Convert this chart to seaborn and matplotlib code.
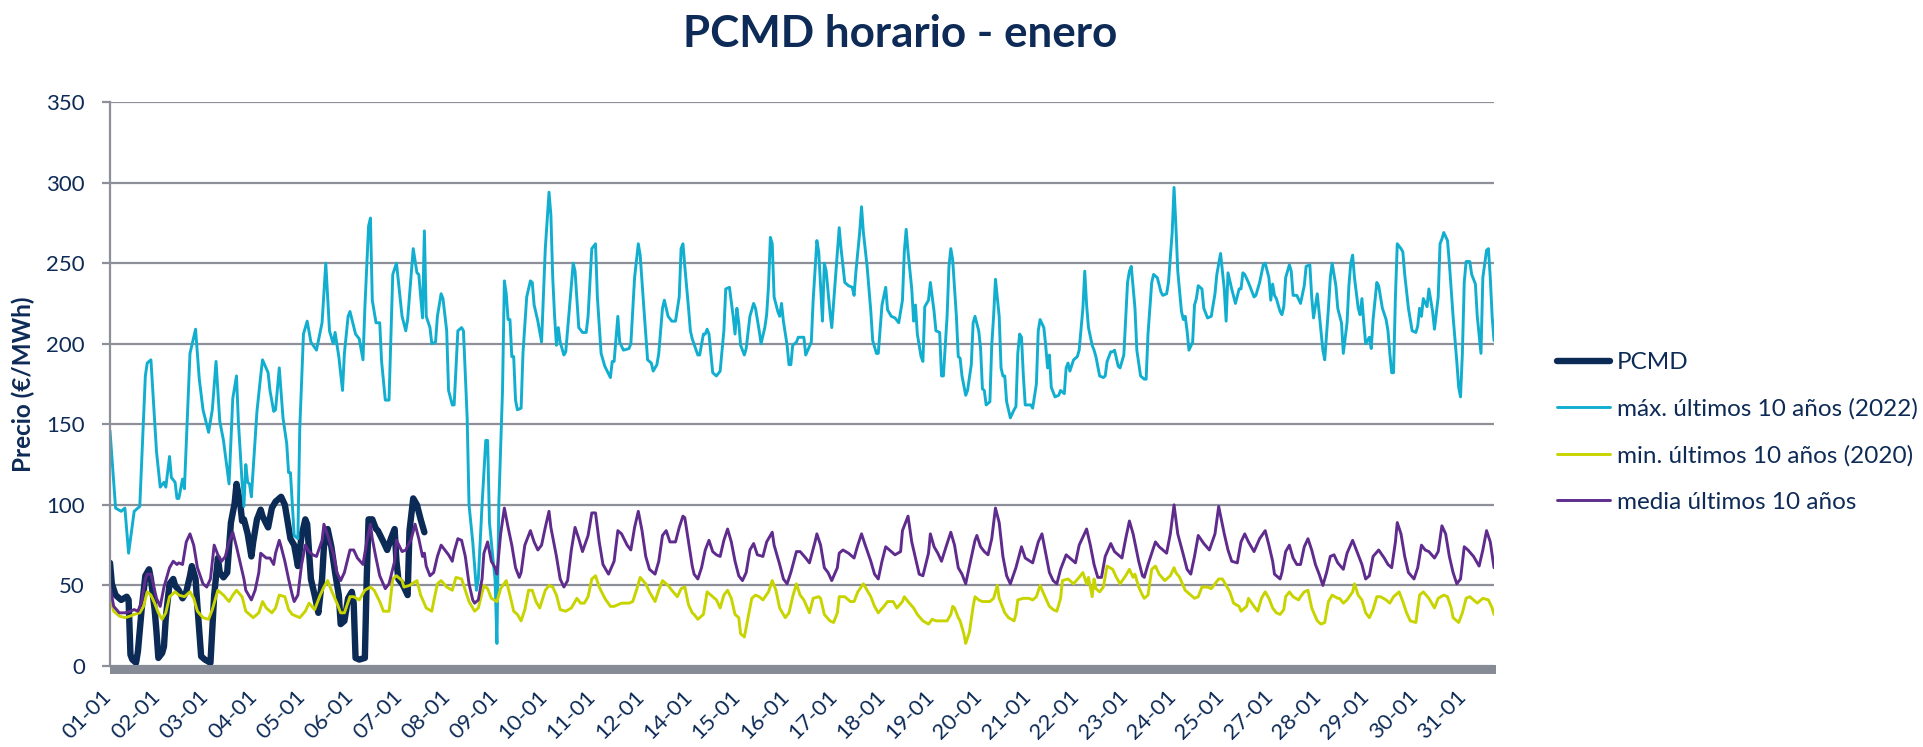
import matplotlib
matplotlib.use("Agg")
import matplotlib.pyplot as plt
import matplotlib.transforms as mtransforms
import pandas as pd
import seaborn as sns

# --- data: (hour of the month, EUR/MWh) ---
title = "PCMD horario - enero"
ylabel = "Precio (€/MWh)"
series_names = ["PCMD", "máx. últimos 10 años (2022)",
                "min. últimos 10 años (2020)", "media últimos 10 años"]
# Excel shows one date label every 26 hours, so 13-01 and 26-01 are skipped
tick_labels = ["01-01", "02-01", "03-01", "04-01", "05-01", "06-01", "07-01",
               "08-01", "09-01", "10-01", "11-01", "12-01", "14-01", "15-01",
               "16-01", "17-01", "18-01", "19-01", "20-01", "21-01", "22-01",
               "23-01", "24-01", "25-01", "27-01", "28-01", "29-01", "30-01",
               "31-01"]
label_every = 26
y_ticks = [0, 50, 100, 150, 200, 250, 300, 350]

pcmd_pts = [
    (0, 64), (1, 51), (3, 44), (6, 41), (9, 43), (10, 41), (11, 7), (12, 4), (14, 2), (15, 9),
    (17, 35), (19, 56), (21, 60), (22, 54), (24, 35), (25, 21), (26, 5), (28, 8), (29, 12),
    (30, 30), (32, 51), (34, 54), (35, 50), (37, 47), (39, 42), (41, 46), (43, 56), (44, 62),
    (46, 54), (47, 37), (49, 6), (51, 4), (54, 2), (56, 44), (58, 67), (59, 58), (61, 55),
    (63, 58), (65, 89), (67, 101), (68, 113), (70, 101), (71, 90), (72, 91), (74, 82), (76, 68),
    (77, 77), (79, 91), (81, 97), (82, 93), (85, 86), (87, 98), (89, 102), (92, 105), (94, 100),
    (96, 86), (97, 79), (99, 75), (101, 62), (103, 81), (105, 91), (106, 88), (108, 54),
    (110, 44), (112, 33), (114, 54), (115, 74), (117, 85), (119, 74), (121, 58), (123, 44),
    (124, 26), (126, 28), (128, 42), (130, 46), (131, 39), (132, 5), (134, 4), (137, 5),
    (138, 54), (139, 91), (141, 91), (143, 85), (144, 84), (147, 77), (149, 72), (151, 79),
    (153, 85), (154, 65), (155, 54), (157, 51), (158, 49), (160, 44), (161, 84), (163, 104),
    (165, 100), (167, 91), (169, 83)]

max_pts = [
    (0, 146), (2, 114), (3, 98), (6, 96), (8, 98), (10, 70), (13, 96), (16, 99), (19, 180),
    (20, 188), (22, 190), (25, 133), (27, 111), (29, 114), (30, 111), (32, 130), (33, 117),
    (35, 114), (36, 104), (37, 104), (39, 116), (40, 110), (43, 194), (46, 209), (48, 178),
    (50, 159), (53, 145), (55, 159), (57, 189), (59, 152), (61, 140), (64, 113), (66, 166),
    (68, 180), (69, 152), (71, 114), (72, 99), (73, 125), (74, 114), (75, 113), (76, 105),
    (79, 158), (81, 180), (82, 190), (85, 182), (86, 171), (88, 158), (89, 159), (91, 185),
    (93, 154), (95, 138), (96, 120), (97, 120), (98, 100), (99, 81), (101, 79), (102, 147),
    (104, 206), (106, 214), (108, 201), (111, 196), (114, 213), (116, 250), (118, 208),
    (120, 200), (121, 207), (123, 192), (125, 171), (126, 194), (128, 217), (129, 220),
    (132, 206), (134, 203), (136, 190), (137, 222), (139, 273), (140, 278), (141, 227),
    (143, 213), (145, 213), (146, 189), (148, 165), (150, 165), (152, 243), (154, 250),
    (157, 217), (159, 208), (160, 215), (163, 259), (165, 244), (166, 243), (168, 216),
    (169, 270), (170, 217), (172, 210), (173, 200), (175, 201), (176, 217), (178, 231),
    (179, 228), (181, 208), (182, 171), (184, 162), (185, 162), (187, 208), (189, 210),
    (190, 208), (192, 154), (193, 100), (195, 77), (197, 47), (198, 54), (200, 100), (202, 140),
    (203, 140), (204, 89), (206, 65), (207, 54), (208, 14), (209, 100), (211, 171), (212, 239),
    (213, 231), (214, 215), (215, 215), (216, 192), (217, 192), (218, 165), (219, 159),
    (221, 160), (222, 194), (224, 229), (226, 239), (227, 238), (228, 224), (230, 214),
    (232, 201), (234, 259), (236, 294), (237, 280), (238, 241), (239, 217), (240, 199),
    (241, 210), (242, 201), (244, 193), (245, 195), (247, 222), (248, 236), (249, 250),
    (250, 245), (252, 210), (254, 207), (256, 207), (257, 217), (259, 259), (261, 262),
    (262, 229), (264, 194), (266, 186), (269, 179), (270, 189), (271, 189), (273, 217),
    (274, 201), (276, 196), (279, 197), (280, 200), (282, 241), (284, 262), (285, 255),
    (287, 222), (289, 190), (291, 188), (292, 183), (294, 187), (295, 194), (297, 222),
    (298, 227), (300, 217), (302, 214), (304, 214), (306, 229), (307, 259), (308, 262),
    (309, 248), (311, 222), (312, 208), (313, 203), (316, 193), (317, 193), (319, 206),
    (320, 206), (321, 209), (322, 206), (324, 182), (326, 180), (328, 183), (330, 208),
    (331, 234), (333, 235), (335, 217), (336, 206), (337, 222), (338, 213), (339, 199),
    (341, 193), (342, 197), (344, 217), (346, 225), (347, 222), (349, 208), (350, 200),
    (352, 210), (353, 218), (354, 236), (355, 266), (356, 262), (357, 229), (359, 220),
    (360, 217), (361, 225), (362, 214), (364, 199), (365, 187), (366, 187), (367, 199),
    (369, 201), (370, 204), (373, 204), (374, 193), (377, 201), (378, 227), (380, 264),
    (381, 257), (382, 236), (383, 214), (384, 250), (385, 245), (387, 220), (388, 210),
    (390, 241), (392, 272), (393, 259), (395, 238), (397, 236), (399, 235), (400, 230),
    (401, 245), (403, 269), (404, 285), (405, 269), (407, 248), (409, 220), (410, 202),
    (412, 194), (413, 194), (415, 224), (417, 235), (418, 221), (420, 217), (422, 216),
    (424, 213), (426, 227), (427, 257), (428, 271), (429, 257), (431, 234), (432, 214),
    (433, 224), (434, 206), (436, 192), (437, 189), (438, 223), (440, 227), (441, 238),
    (443, 220), (444, 208), (446, 207), (447, 180), (448, 180), (450, 217), (451, 248),
    (452, 259), (453, 252), (455, 217), (456, 192), (457, 191), (458, 180), (460, 168),
    (461, 171), (463, 187), (464, 213), (465, 217), (467, 208), (468, 197), (469, 172),
    (470, 171), (471, 162), (473, 164), (474, 199), (475, 217), (476, 240), (478, 217),
    (479, 185), (480, 180), (481, 180), (482, 164), (484, 154), (486, 159), (487, 161),
    (488, 194), (489, 206), (490, 204), (491, 180), (492, 162), (495, 162), (496, 160),
    (498, 175), (499, 208), (500, 215), (502, 210), (503, 199), (504, 185), (505, 193),
    (506, 173), (508, 167), (510, 168), (511, 171), (513, 169), (514, 185), (515, 188),
    (516, 183), (518, 190), (520, 192), (521, 196), (523, 222), (524, 245), (525, 224),
    (526, 210), (528, 199), (529, 196), (530, 192), (532, 180), (534, 179), (535, 180),
    (536, 189), (538, 195), (539, 195), (540, 196), (542, 186), (543, 185), (545, 193),
    (547, 238), (548, 245), (549, 248), (551, 222), (552, 196), (554, 180), (556, 178),
    (557, 178), (558, 206), (560, 238), (561, 243), (563, 241), (565, 232), (566, 230),
    (568, 231), (569, 238), (571, 269), (572, 297), (573, 273), (574, 245), (576, 220),
    (577, 215), (578, 217), (579, 208), (580, 196), (582, 201), (583, 224), (584, 228),
    (585, 236), (587, 234), (588, 222), (590, 216), (592, 217), (594, 231), (595, 243),
    (597, 256), (599, 234), (600, 214), (601, 244), (603, 234), (605, 225), (607, 234),
    (608, 234), (609, 244), (610, 243), (612, 238), (613, 235), (615, 229), (616, 230),
    (618, 238), (620, 249), (621, 250), (623, 241), (624, 227), (625, 237), (626, 230),
    (627, 228), (629, 220), (630, 218), (631, 223), (632, 241), (634, 249), (635, 245),
    (636, 230), (638, 230), (640, 225), (642, 236), (643, 248), (645, 249), (646, 229),
    (647, 216), (649, 231), (651, 208), (652, 196), (653, 190), (655, 222), (656, 241),
    (657, 250), (659, 236), (660, 222), (662, 213), (663, 194), (665, 213), (666, 236),
    (667, 250), (668, 255), (669, 241), (671, 222), (672, 218), (673, 228), (674, 213),
    (675, 200), (677, 204), (678, 197), (679, 215), (681, 238), (682, 236), (684, 222),
    (686, 215), (687, 208), (688, 194), (689, 182), (690, 182), (691, 229), (692, 262),
    (694, 259), (695, 257), (696, 243), (698, 222), (699, 215), (700, 208), (702, 207),
    (703, 211), (704, 222), (705, 217), (706, 228), (708, 223), (709, 234), (711, 220),
    (712, 209), (714, 229), (715, 262), (716, 265), (717, 269), (719, 264), (720, 250),
    (722, 217), (724, 189), (725, 173), (726, 167), (727, 194), (728, 238), (729, 251),
    (731, 251), (732, 243), (734, 237), (735, 217), (737, 194), (738, 241), (740, 258),
    (741, 259), (742, 241), (743, 217), (744, 202)]

min_pts = [
    (0, 43), (2, 34), (5, 31), (8, 30), (11, 31), (13, 32), (16, 33), (18, 37), (20, 46),
    (22, 44), (24, 39), (26, 33), (28, 29), (30, 33), (32, 43), (35, 46), (37, 44), (40, 43),
    (43, 46), (45, 42), (47, 34), (50, 30), (53, 29), (55, 35), (58, 47), (61, 44), (64, 40),
    (66, 44), (68, 47), (71, 43), (73, 34), (77, 30), (80, 33), (82, 40), (84, 36), (87, 33),
    (89, 36), (91, 44), (94, 43), (96, 35), (98, 32), (102, 30), (105, 34), (107, 39),
    (110, 35), (113, 44), (115, 49), (117, 53), (119, 47), (122, 39), (124, 33), (126, 33),
    (129, 43), (131, 43), (134, 41), (137, 47), (140, 49), (142, 47), (145, 40), (147, 34),
    (150, 34), (152, 54), (154, 56), (157, 53), (158, 49), (161, 50), (165, 53), (167, 44),
    (170, 36), (173, 34), (174, 40), (176, 51), (178, 53), (181, 49), (184, 47), (186, 55),
    (189, 54), (191, 47), (193, 40), (196, 34), (198, 36), (201, 50), (203, 48), (205, 42),
    (208, 40), (210, 48), (213, 53), (215, 44), (217, 34), (219, 32), (221, 28), (223, 35),
    (225, 47), (227, 47), (229, 40), (231, 36), (234, 47), (236, 50), (238, 49), (240, 44),
    (242, 35), (245, 34), (248, 36), (251, 42), (253, 39), (255, 39), (257, 43), (259, 54),
    (261, 56), (263, 49), (266, 42), (269, 37), (271, 37), (275, 39), (279, 39), (281, 40),
    (283, 47), (285, 55), (288, 51), (290, 46), (293, 40), (295, 47), (297, 53), (300, 50),
    (302, 47), (305, 43), (307, 48), (309, 49), (311, 38), (313, 33), (314, 32), (316, 29),
    (319, 32), (321, 46), (323, 44), (326, 41), (328, 36), (330, 44), (332, 47), (334, 42),
    (336, 32), (338, 30), (339, 20), (341, 18), (343, 30), (345, 42), (347, 44), (349, 43),
    (351, 41), (354, 46), (356, 53), (358, 47), (360, 36), (363, 30), (365, 33), (367, 43),
    (369, 51), (371, 44), (373, 41), (376, 33), (378, 42), (381, 43), (382, 42), (384, 32),
    (387, 28), (389, 27), (391, 33), (392, 43), (395, 43), (398, 40), (400, 40), (402, 46),
    (405, 51), (407, 47), (409, 43), (411, 37), (413, 33), (416, 37), (418, 40), (421, 40),
    (423, 36), (426, 40), (427, 43), (429, 40), (432, 36), (434, 32), (437, 28), (440, 26),
    (442, 29), (444, 28), (447, 28), (450, 28), (452, 32), (453, 37), (454, 36), (456, 30),
    (457, 28), (459, 20), (460, 14), (462, 21), (464, 37), (465, 43), (467, 41), (469, 40),
    (473, 40), (475, 42), (477, 50), (478, 42), (481, 33), (483, 30), (486, 28), (487, 32),
    (488, 41), (491, 42), (494, 42), (496, 41), (498, 43), (500, 50), (503, 42), (505, 37),
    (507, 35), (509, 34), (511, 42), (512, 53), (515, 54), (518, 51), (521, 55), (523, 58),
    (525, 51), (526, 55), (528, 43), (529, 54), (530, 48), (532, 46), (534, 49), (536, 62),
    (539, 60), (541, 55), (543, 51), (546, 56), (548, 60), (550, 55), (551, 57), (553, 49),
    (555, 44), (556, 42), (558, 44), (560, 60), (562, 62), (564, 57), (567, 53), (570, 56),
    (572, 61), (573, 58), (575, 55), (578, 47), (581, 44), (583, 42), (585, 43), (587, 49),
    (590, 49), (592, 48), (594, 51), (596, 54), (598, 54), (600, 50), (602, 46), (604, 39),
    (607, 37), (608, 34), (611, 37), (612, 42), (615, 37), (617, 34), (619, 42), (621, 46),
    (623, 42), (625, 36), (627, 33), (629, 32), (631, 35), (632, 43), (634, 46), (636, 43),
    (639, 41), (640, 43), (642, 46), (644, 47), (646, 36), (649, 28), (651, 26), (653, 27),
    (655, 40), (657, 44), (660, 42), (661, 42), (663, 39), (665, 41), (668, 46), (669, 51),
    (671, 44), (673, 41), (675, 33), (677, 30), (679, 35), (681, 43), (683, 43), (686, 41),
    (688, 39), (690, 43), (693, 46), (695, 40), (697, 33), (699, 28), (702, 27), (704, 44),
    (706, 46), (709, 42), (712, 36), (714, 42), (717, 44), (719, 43), (721, 36), (722, 30),
    (725, 27), (727, 33), (729, 42), (731, 43), (733, 41), (735, 39), (738, 42), (741, 41),
    (743, 36), (744, 32)]

media_pts = [
    (0, 49), (2, 37), (5, 33), (8, 33), (11, 34), (13, 35), (15, 34), (17, 40), (19, 54),
    (20, 57), (22, 57), (24, 47), (25, 42), (27, 37), (29, 49), (32, 61), (34, 65), (36, 63),
    (37, 64), (39, 63), (41, 77), (43, 82), (45, 75), (47, 61), (50, 51), (52, 49), (54, 54),
    (56, 75), (58, 69), (60, 65), (62, 68), (64, 77), (66, 83), (68, 74), (70, 64), (72, 54),
    (73, 47), (76, 41), (78, 47), (80, 58), (81, 70), (84, 67), (86, 67), (88, 63), (89, 70),
    (91, 78), (92, 74), (94, 65), (96, 54), (98, 44), (99, 40), (101, 44), (103, 63), (105, 75),
    (107, 71), (109, 69), (111, 68), (114, 78), (115, 88), (117, 81), (120, 70), (122, 58),
    (124, 53), (126, 58), (129, 72), (131, 72), (133, 67), (136, 63), (138, 77), (140, 88),
    (141, 79), (143, 67), (145, 56), (148, 48), (150, 51), (153, 65), (154, 78), (157, 71),
    (159, 72), (162, 79), (164, 88), (166, 79), (168, 68), (169, 70), (170, 62), (172, 56),
    (174, 58), (176, 68), (178, 75), (180, 72), (182, 69), (184, 65), (185, 71), (187, 79),
    (189, 78), (191, 68), (193, 51), (195, 41), (196, 39), (198, 41), (200, 54), (201, 70),
    (203, 77), (205, 65), (207, 61), (208, 57), (210, 82), (212, 98), (214, 86), (216, 75),
    (218, 61), (220, 55), (221, 58), (223, 75), (226, 84), (228, 77), (230, 72), (232, 75),
    (234, 86), (236, 96), (237, 86), (240, 68), (242, 54), (244, 49), (246, 53), (248, 72),
    (250, 86), (252, 79), (254, 71), (257, 81), (259, 95), (261, 95), (263, 77), (265, 63),
    (268, 57), (271, 65), (273, 84), (275, 82), (278, 75), (280, 72), (282, 86), (284, 96),
    (286, 84), (288, 68), (290, 60), (293, 57), (295, 65), (297, 81), (299, 84), (301, 77),
    (304, 77), (306, 86), (308, 93), (309, 92), (311, 77), (313, 62), (314, 57), (316, 54),
    (318, 61), (320, 72), (322, 78), (324, 71), (326, 69), (328, 68), (330, 78), (332, 85),
    (334, 77), (336, 65), (338, 56), (340, 53), (342, 58), (344, 72), (346, 76), (348, 69),
    (351, 68), (353, 77), (356, 83), (357, 75), (360, 63), (362, 54), (364, 51), (366, 58),
    (369, 71), (371, 71), (374, 67), (376, 64), (379, 77), (380, 82), (382, 75), (384, 61),
    (386, 58), (388, 53), (391, 61), (392, 70), (394, 72), (397, 70), (400, 67), (402, 75),
    (404, 82), (406, 75), (409, 65), (411, 57), (413, 54), (415, 65), (417, 74), (420, 71),
    (422, 69), (425, 71), (426, 84), (429, 93), (431, 77), (433, 67), (435, 57), (437, 56),
    (440, 70), (441, 82), (443, 74), (445, 70), (447, 65), (450, 76), (452, 83), (454, 75),
    (456, 61), (458, 57), (460, 51), (462, 62), (465, 78), (466, 81), (468, 74), (470, 71),
    (472, 69), (474, 79), (476, 98), (478, 89), (480, 68), (482, 56), (484, 51), (487, 61),
    (490, 74), (492, 67), (496, 64), (499, 77), (501, 82), (503, 70), (505, 58), (507, 53),
    (509, 51), (511, 60), (514, 69), (516, 67), (519, 64), (521, 75), (525, 85), (527, 75),
    (529, 63), (531, 55), (533, 55), (535, 68), (538, 76), (540, 71), (544, 67), (546, 79),
    (548, 90), (550, 82), (553, 65), (555, 56), (556, 55), (558, 63), (562, 77), (564, 74),
    (568, 70), (570, 82), (572, 100), (574, 82), (577, 69), (579, 60), (581, 57), (583, 68),
    (585, 81), (588, 76), (591, 72), (594, 82), (596, 99), (599, 82), (601, 72), (603, 65),
    (606, 64), (608, 77), (610, 82), (612, 77), (615, 71), (618, 79), (621, 84), (623, 75),
    (625, 65), (626, 57), (629, 54), (630, 58), (632, 71), (634, 75), (636, 67), (638, 63),
    (640, 63), (642, 74), (644, 79), (646, 72), (648, 63), (650, 57), (652, 50), (654, 58),
    (656, 68), (658, 69), (660, 64), (663, 60), (665, 70), (668, 78), (670, 72), (673, 63),
    (675, 54), (677, 56), (679, 68), (682, 72), (685, 67), (687, 63), (689, 61), (691, 77),
    (692, 89), (694, 82), (696, 68), (698, 58), (701, 54), (703, 61), (705, 75), (707, 72),
    (709, 71), (712, 67), (714, 71), (716, 87), (718, 82), (720, 68), (722, 58), (724, 51),
    (726, 54), (728, 74), (730, 72), (733, 68), (736, 62), (738, 72), (740, 84), (742, 77),
    (744, 61)]

# --- style ---
navy = "#0D2B56"
grid_grey = "#8E9099"
colors = ["#0B2A55", "#12AECF", "#C8D400", "#5F2C8E"]
widths = [4.6, 2.1, 2.1, 2.1]

sns.set_theme(style="white")
plt.rcParams["font.family"] = ["Lato", "DejaVu Sans"]

W, H = 1923, 747
fig = plt.figure(figsize=(W / 100, H / 100), dpi=100)
ax = fig.add_axes([110 / W, 1 - 666 / H, (1494 - 110) / W, (666 - 102) / H])

for pts, name, c, lw in zip([pcmd_pts, max_pts, min_pts, media_pts], series_names, colors, widths):
    df = pd.DataFrame(pts, columns=["hora", "precio"])
    sns.lineplot(data=df, x="hora", y="precio", ax=ax, color=c, linewidth=lw,
                 label=name, estimator=None, sort=False)

ax.set_xlim(0, 744)
ax.set_ylim(0, 350)
ax.set_xlabel("")
ax.set_ylabel("")
ax.set_yticks(y_ticks)
ax.grid(axis="y", color=grid_grey, linewidth=1.6)
ax.grid(axis="x", visible=False)
ax.set_axisbelow(True)
for s in ["top", "right", "bottom"]:
    ax.spines[s].set_visible(False)
ax.spines["left"].set_color(grid_grey)
ax.spines["left"].set_linewidth(1.6)

ax.set_xticks([k * label_every + 0.5 for k in range(len(tick_labels))])
ax.set_xticklabels(tick_labels, rotation=45, ha="right", va="top")
ax.tick_params(axis="x", length=0, pad=15, labelsize=16, labelcolor=navy)
ax.tick_params(axis="y", length=6, width=1.6, color=grid_grey, pad=12,
               labelsize=16, labelcolor=navy, left=True)
shift = mtransforms.ScaledTranslation(5 / 100, 0, fig.dpi_scale_trans)
for lab in ax.get_xticklabels():
    lab.set_transform(lab.get_transform() + shift)

# thick grey floor under the category axis
band = fig.add_axes([110 / W, 1 - 674 / H, (1496 - 110) / W, 9 / H])
band.set_facecolor("#868B96")
band.set_xticks([])
band.set_yticks([])
for s in band.spines.values():
    s.set_visible(False)

fig.text(900 / W, 1 - 46.7 / H, title, ha="center", va="baseline", fontsize=31.7,
         fontweight="bold", color=navy)
fig.text(23 / W, 1 - 384.5 / H, ylabel, rotation=90, ha="center", va="center",
         fontsize=17.5, fontweight="bold", color=navy)

handles, labels = ax.get_legend_handles_labels()
ax.get_legend().remove()
fig.legend(handles, labels, loc="center left", bbox_to_anchor=(1557 / W, 1 - 432.5 / H),
           frameon=False, fontsize=17.5, handlelength=2.2, handletextpad=0.25,
           labelspacing=1.04, borderpad=0, borderaxespad=0, labelcolor=navy)

fig.savefig("out.png", dpi=100)
